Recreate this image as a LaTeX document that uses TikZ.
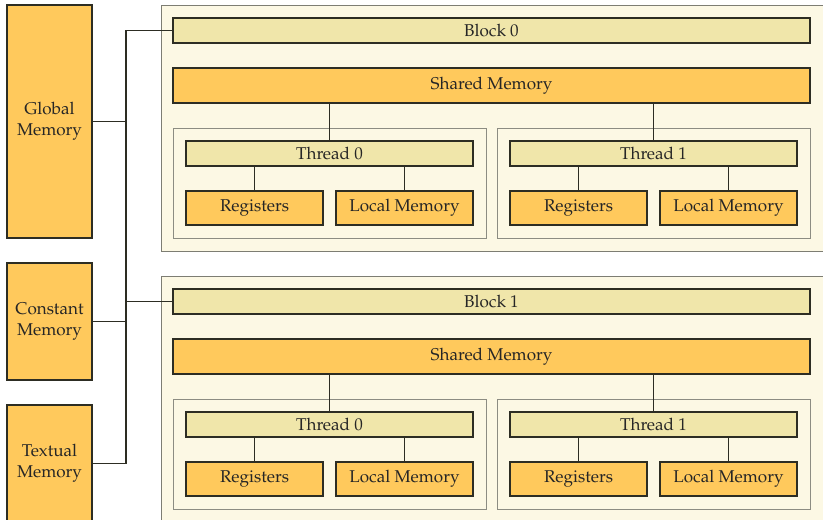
\documentclass[tikz,border=0pt]{standalone}
\usepackage[T1]{fontenc}
\usepackage{mathpazo}
\usetikzlibrary{positioning, fit, backgrounds}
\definecolor{BlockBg}    {RGB}{252, 248, 228}
\definecolor{BlockBorder}{RGB}{125, 125, 115}
\definecolor{BarFill}    {RGB}{240, 230, 170}
\definecolor{MemFill}    {RGB}{255, 201,  92}
\definecolor{LineDark}   {RGB}{ 45,  45,  35}
\definecolor{BoxBorder}  {RGB}{140, 140, 130}
\newcommand{\memfont}{\fontsize{12.8}{15.8}\selectfont}
\tikzset{
  % Khaki label bar (block / thread)
  labelbar/.style={
    rectangle, fill=BarFill, draw=LineDark, line width=0.8pt,
    inner sep=0pt, outer sep=0pt, minimum height=18.75pt,
    font=\memfont, text=black!85
  },
  % Orange memory box
  membox/.style={
    rectangle, fill=MemFill, draw=LineDark, line width=0.8pt,
    inner sep=0pt, outer sep=0pt, font=\memfont, text=black!85,
    align=center
  },
  % Thread container
  threadbox/.style={
    rectangle, fill=BlockBg, draw=BoxBorder, line width=0.5pt,
    inner sep=9.75pt
  },
  % Block panel
  blockpanel/.style={
    rectangle, fill=BlockBg, draw=BlockBorder, line width=0.6pt,
    inner sep=0pt, anchor=north west,
    minimum width=505pt, minimum height=184.5pt
  },
  % Connectors
  link/.style={draw=LineDark, line width=0.9pt}
}
\newcommand{\Thread}[3]{
  \node[labelbar, minimum width=215.25pt, #3] (#1) {Thread #2};
  \node[membox, minimum width=102.75pt, minimum height=25.5pt,
        below right=18.75pt and 0pt of #1.south west] (#1r) {Registers};
  \node[membox, minimum width=102.75pt, minimum height=25.5pt,
        below left=18.75pt and 0pt of #1.south east] (#1l) {Local Memory};
  \draw[link] (#1r.north) -- (#1r.north |- #1.south);
  \draw[link] (#1l.north) -- (#1l.north |- #1.south);
  \begin{scope}[on background layer]
    \node[threadbox, fit=(#1)(#1r)(#1l)] (#1box) {};
  \end{scope}
}
\newcommand{\GPUBlock}[3]{
  \begin{scope}[on background layer]
    \node[blockpanel] (#1) at (161,#3) {};
  \end{scope}
  \node[labelbar, minimum width=477.75pt, anchor=north west]
        (#1b) at (173,{#3-13}) {Block #2};
  \node[membox, minimum width=477.75pt, minimum height=26.25pt,
        below=18.75pt of #1b] (#1s) {Shared Memory};
  \Thread{#1t0}{0}{below right=28.5pt and 9.75pt of #1s.south west}
  \Thread{#1t1}{1}{below left=28.5pt and 9.75pt of #1s.south east}
  \draw[link] (#1t0.north) -- (#1t0.north |- #1s.south);
  \draw[link] (#1t1.north) -- (#1t1.north |- #1s.south);
}

\begin{document}
\begin{tikzpicture}[x=0.75pt, y=0.75pt]
  \useasboundingbox (0,0) rectangle (823,520);

  % ── Device memories ──────────────────────────────────────────────
  \node[membox, minimum width=63.75pt, minimum height=174.75pt]
        (glob) at (49.5,398.5) {Global\\Memory};
  \node[membox, minimum width=63.75pt, minimum height=87.75pt]
        (const) at (49.5,198.5) {Constant\\Memory};
  \node[membox, minimum width=63.75pt, minimum height=87.75pt]
        (tex) at (49.5,56.5) {Textual\\Memory};

  % ── Blocks ───────────────────────────────────────────────────────
  \GPUBlock{b0}{0}{515}
  \GPUBlock{b1}{1}{244}

  % ── Bus ──────────────────────────────────────────────────────────
  \coordinate (bus) at (126,0);
  \draw[link] (b0b.west) -- (b0b.west -| bus) |- (tex.east);
  \draw[link] (glob.east) -- (glob.east -| bus);
  \draw[link] (const.east) -- (const.east -| bus);
  \draw[link] (b1b.west) -- (b1b.west -| bus);

\end{tikzpicture}
\end{document}
